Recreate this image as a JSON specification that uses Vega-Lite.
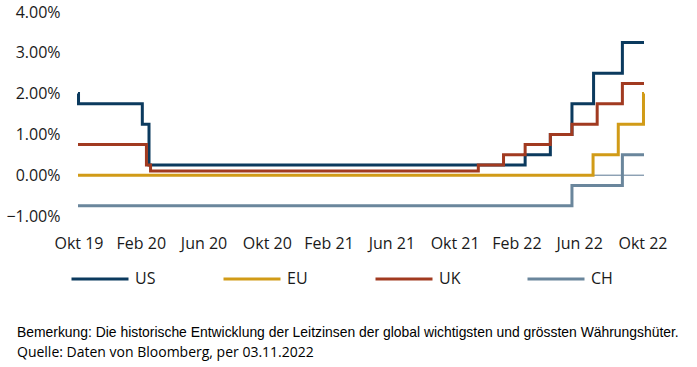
{
  "$schema": "https://vega.github.io/schema/vega-lite/v6.json",
  "width": 566,
  "height": 204,
  "autosize": "none",
  "padding": {"left": 78, "top": 12, "right": 53, "bottom": 151},
  "background": "white",
  "config": {
    "view": {"stroke": null},
    "font": "Open Sans",
    "axis": {"labelFont": "Open Sans", "labelFontSize": 16, "labelColor": "#1a1a1a", "domain": false, "ticks": false, "grid": false, "title": null}
  },
  "title": {
    "text": "Bemerkung: Die historische Entwicklung der Leitzinsen der global wichtigsten und grössten Währungshüter.",
    "subtitle": "Quelle: Daten von Bloomberg, per 03.11.2022",
    "orient": "bottom",
    "anchor": "start",
    "frame": "group",
    "dx": -61,
    "offset": 39,
    "font": "Liberation Sans",
    "fontSize": 13.9,
    "fontWeight": "normal",
    "color": "#000000",
    "subtitleFont": "Open Sans",
    "subtitleFontSize": 14,
    "subtitleColor": "#000000",
    "subtitlePadding": 6
  },
  "datasets": {
    "rates": [
      {"date": "2019-10-30", "bank": "US", "rate": 2.0},
      {"date": "2019-10-31", "bank": "US", "rate": 1.75},
      {"date": "2020-03-03", "bank": "US", "rate": 1.25},
      {"date": "2020-03-16", "bank": "US", "rate": 0.25},
      {"date": "2022-03-17", "bank": "US", "rate": 0.5},
      {"date": "2022-05-05", "bank": "US", "rate": 1.0},
      {"date": "2022-06-16", "bank": "US", "rate": 1.75},
      {"date": "2022-07-28", "bank": "US", "rate": 2.5},
      {"date": "2022-09-22", "bank": "US", "rate": 3.25},
      {"date": "2022-11-03", "bank": "US", "rate": 3.25},
      {"date": "2019-10-30", "bank": "EU", "rate": 0.0},
      {"date": "2022-07-27", "bank": "EU", "rate": 0.5},
      {"date": "2022-09-14", "bank": "EU", "rate": 1.25},
      {"date": "2022-11-02", "bank": "EU", "rate": 2.0},
      {"date": "2022-11-03", "bank": "EU", "rate": 2.0},
      {"date": "2019-10-30", "bank": "UK", "rate": 0.75},
      {"date": "2020-03-11", "bank": "UK", "rate": 0.25},
      {"date": "2020-03-19", "bank": "UK", "rate": 0.1},
      {"date": "2021-12-16", "bank": "UK", "rate": 0.25},
      {"date": "2022-02-03", "bank": "UK", "rate": 0.5},
      {"date": "2022-03-17", "bank": "UK", "rate": 0.75},
      {"date": "2022-05-05", "bank": "UK", "rate": 1.0},
      {"date": "2022-06-16", "bank": "UK", "rate": 1.25},
      {"date": "2022-08-04", "bank": "UK", "rate": 1.75},
      {"date": "2022-09-22", "bank": "UK", "rate": 2.25},
      {"date": "2022-11-03", "bank": "UK", "rate": 2.25},
      {"date": "2019-10-30", "bank": "CH", "rate": -0.75},
      {"date": "2022-06-16", "bank": "CH", "rate": -0.25},
      {"date": "2022-09-22", "bank": "CH", "rate": 0.5},
      {"date": "2022-11-03", "bank": "CH", "rate": 0.5}
    ]
  },
  "layer": [
    {
      "data": {"values": [{"level": 0}]},
      "mark": {"type": "rule", "color": "#5a7893", "strokeWidth": 1},
      "encoding": {"y": {"field": "level", "type": "quantitative"}}
    },
    {
      "data": {"name": "rates"},
      "mark": {"type": "line", "interpolate": "step-after", "strokeWidth": 3},
      "encoding": {
        "x": {
          "field": "date",
          "type": "temporal",
          "scale": {"type": "utc", "domain": [{"year": 2019, "month": 10, "date": 30, "utc": true}, {"year": 2022, "month": 11, "date": 3, "utc": true}]},
          "axis": {
            "labelPadding": 19,
            "labelFlush": false,
            "labelBound": false,
            "values": [
              {"year": 2019, "month": 10, "date": 31, "utc": true},
              {"year": 2020, "month": 2, "date": 29, "utc": true},
              {"year": 2020, "month": 6, "date": 30, "utc": true},
              {"year": 2020, "month": 10, "date": 31, "utc": true},
              {"year": 2021, "month": 2, "date": 28, "utc": true},
              {"year": 2021, "month": 6, "date": 30, "utc": true},
              {"year": 2021, "month": 10, "date": 31, "utc": true},
              {"year": 2022, "month": 2, "date": 28, "utc": true},
              {"year": 2022, "month": 6, "date": 30, "utc": true},
              {"year": 2022, "month": 10, "date": 31, "utc": true}
            ],
            "labelExpr": "['Jan','Feb','Mär','Apr','Mai','Jun','Jul','Aug','Sep','Okt','Nov','Dez'][utcmonth(datum.value)] + ' ' + utcFormat(datum.value, '%y')",
            "labelOverlap": false
          }
        },
        "y": {
          "field": "rate",
          "type": "quantitative",
          "scale": {"domain": [-1, 4], "nice": false, "zero": false},
          "axis": {"values": [-1, 0, 1, 2, 3, 4], "labelExpr": "format(datum.value, '.2f') + '%'", "labelPadding": 18}
        },
        "color": {
          "field": "bank",
          "type": "nominal",
          "scale": {"domain": ["US", "EU", "UK", "CH"], "range": ["#0b3a5e", "#d19b17", "#a13a20", "#6a869c"]},
          "legend": {
            "title": null,
            "orient": "none",
            "legendX": -8,
            "legendY": 237,
            "direction": "horizontal",
            "columns": 4,
            "gridAlign": "all",
            "columnPadding": 60,
            "padding": 0,
            "symbolType": "stroke",
            "symbolSize": 3249,
            "symbolStrokeWidth": 3,
            "labelFont": "Open Sans",
            "labelFontSize": 16,
            "labelColor": "#1a1a1a",
            "labelOffset": 5
          }
        },
        "order": {"value": 0}
      }
    }
  ]
}
